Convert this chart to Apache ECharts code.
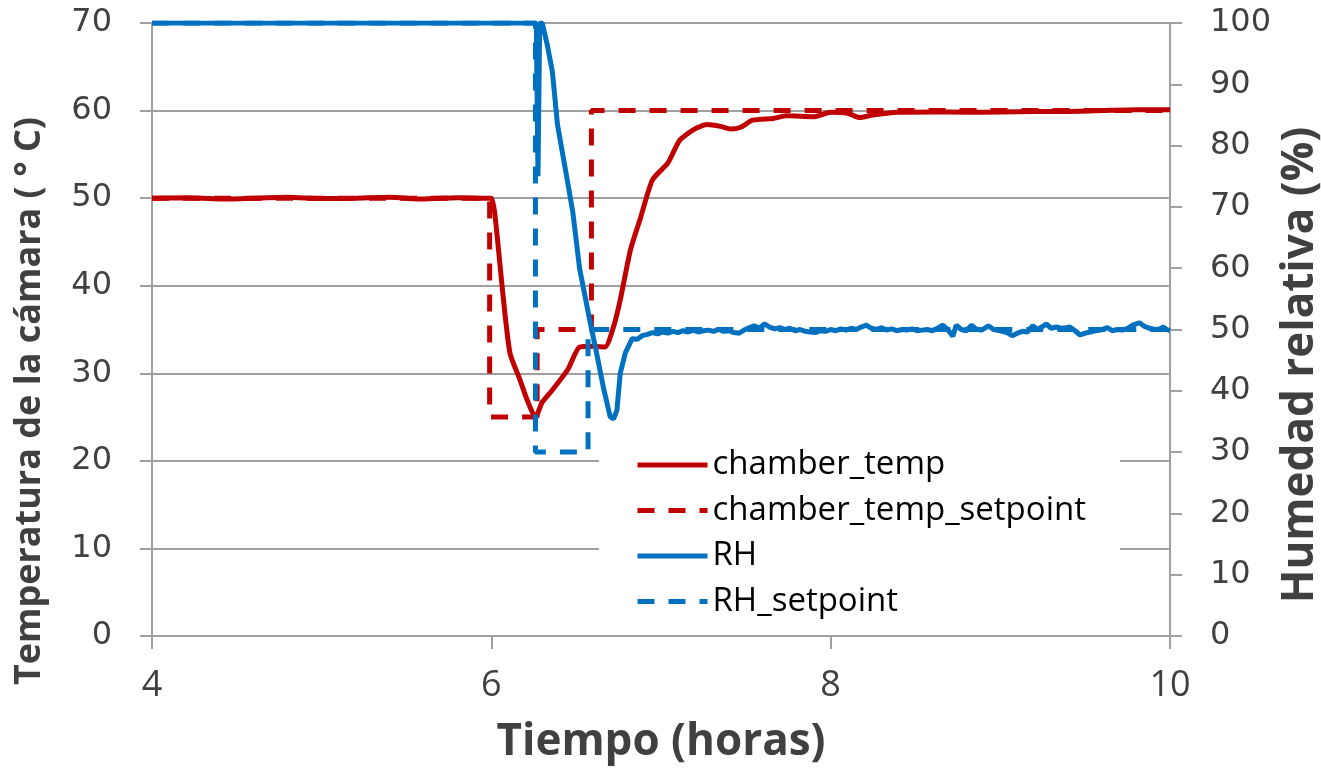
<!DOCTYPE html>
<html>
<head>
<meta charset="utf-8">
<script src="https://cdn.jsdelivr.net/npm/echarts@6/dist/echarts.min.js"></script>
<style>
  html, body { margin: 0; padding: 0; background: #fff; }
  #chart { width: 1321px; height: 771px; }
</style>
</head>
<body>
<div id="chart"></div>
<script>
// tiempo en horas / temperatura de la cámara (°C)
const tempTime = [4.0, 4.2, 4.4, 4.6, 4.8, 5.0, 5.2, 5.4, 5.6, 5.8, 5.95, 6.0,
  6.02, 6.07, 6.11, 6.17, 6.21, 6.26, 6.30, 6.36, 6.45, 6.52, 6.60, 6.67,
  6.72, 6.76, 6.82, 6.88, 6.95, 7.04, 7.11, 7.19, 7.27, 7.35, 7.41, 7.47,
  7.54, 7.66, 7.74, 7.90, 8.00, 8.10, 8.17, 8.25, 8.4, 8.6, 8.8, 9.0, 9.2,
  9.4, 9.6, 9.8, 10.0]
const tempVals = [50.0, 50.05, 49.9, 50.0, 50.1, 49.95, 50.0, 50.1, 49.9, 50.05, 50.0, 50.0,
  48.3, 38.7, 32.3, 29.2, 27.0, 25.0, 26.7, 28.1, 30.4, 33.0, 33.1, 33.0,
  35.3, 38.4, 44.1, 47.8, 52.1, 54.0, 56.6, 57.8, 58.4, 58.2, 57.9, 58.1,
  58.9, 59.1, 59.4, 59.3, 59.8, 59.7, 59.2, 59.5, 59.8, 59.85, 59.8, 59.85, 59.9,
  59.9, 60.0, 60.1, 60.1]

// consigna de temperatura
const tempSpTime = [4, 5.99, 5.99, 6.27, 6.27, 6.59, 6.59, 10]
const tempSpVals = [50, 50, 25, 25, 35, 35, 60, 60]

// humedad relativa (%)
const rhTime = [4.0, 6.25, 6.265, 6.275, 6.285, 6.30, 6.33, 6.36, 6.39, 6.45, 6.48, 6.52,
  6.58, 6.62, 6.66, 6.70, 6.72, 6.74, 6.76, 6.79, 6.83, 6.86, 6.89,
  6.92, 6.95, 6.98, 7.01, 7.04, 7.07, 7.10, 7.13, 7.16, 7.19, 7.22, 7.25, 7.28,
  7.31, 7.34, 7.37, 7.40, 7.43, 7.46, 7.49, 7.52, 7.55, 7.58, 7.61, 7.64, 7.67,
  7.70, 7.73, 7.76, 7.79, 7.82, 7.85, 7.88, 7.91, 7.94, 7.97, 8.00, 8.03, 8.06,
  8.09, 8.12, 8.15, 8.18, 8.21, 8.24, 8.27, 8.30, 8.33, 8.36, 8.39, 8.42, 8.45,
  8.48, 8.51, 8.54, 8.57, 8.60, 8.63, 8.66, 8.69, 8.72, 8.74, 8.77, 8.80, 8.83,
  8.86, 8.89, 8.93, 8.96, 9.00, 9.04, 9.07, 9.10, 9.13, 9.16, 9.19, 9.22, 9.25,
  9.27, 9.30, 9.33, 9.36, 9.39, 9.41, 9.44, 9.47, 9.50, 9.53, 9.56, 9.59, 9.63,
  9.66, 9.69, 9.72, 9.75, 9.78, 9.82, 9.85, 9.88, 9.91, 9.94, 9.96, 9.98, 10.0]
const rhVals = [100, 100, 100, 75, 100, 100, 96.4, 92.0, 83.4, 74.0, 69.2, 60.0,
  51.5, 46.2, 40.6, 35.8, 35.4, 36.8, 42.9, 46.2, 48.5, 48.4, 49.0,
  49.2, 49.5, 49.3, 49.6, 49.4, 49.7, 49.5, 49.8, 49.6, 49.9, 49.6, 49.8, 49.9,
  49.7, 50.0, 49.7, 49.8, 49.5, 49.4, 49.9, 50.3, 50.6, 50.2, 50.9, 50.4, 50.1,
  50.3, 50.0, 50.2, 49.8, 50.0, 49.7, 49.6, 49.5, 49.8, 49.7, 50.0, 49.8, 50.1,
  49.9, 50.2, 50.0, 50.4, 50.7, 50.2, 50.0, 50.3, 49.9, 50.1, 49.8, 50.0, 49.9,
  50.1, 49.8, 49.9, 50.0, 49.8, 50.2, 50.7, 50.0, 48.9, 50.7, 50.0, 49.8, 50.7,
  50.0, 49.9, 50.6, 50.0, 49.8, 49.5, 49.0, 49.4, 49.7, 49.6, 50.6, 50.0, 50.5,
  50.9, 50.2, 50.4, 50.2, 50.3, 50.4, 49.8, 49.1, 49.4, 49.6, 49.8, 49.9, 50.3,
  49.8, 50.0, 49.9, 50.2, 50.7, 51.1, 50.5, 50.2, 50.0, 50.1, 50.4, 50.0, 49.8]

// consigna de humedad
const rhSpTime = [4, 6.26, 6.26, 6.57, 6.57, 10]
const rhSpVals = [100, 100, 30, 30, 50, 50]

const seriesNames = ['chamber_temp', 'chamber_temp_setpoint', 'RH', 'RH_setpoint']
const xTicks = [4, 6, 8, 10]

const RED = '#c00000'
const BLUE = '#0070c0'
const AXIS_GRAY = '#a0a0a0'
const TEXT_GRAY = '#404040'
const LINE_W = 5
const DASH = [17, 14]

function zip(xs, ys) {
  return xs.map((x, i) => [x, ys[i]])
}

const chart = echarts.init(document.getElementById('chart'))

const option = {
  backgroundColor: '#fff',
  animation: false,
  grid: { left: 152, right: 151, top: 23, bottom: 135 },
  legend: {
    orient: 'vertical',
    left: 599,
    top: 440,
    padding: [8, 34, 8, 36],
    backgroundColor: '#fff',
    itemWidth: 70,
    itemHeight: 14,
    itemGap: 11.5,
    itemStyle: { opacity: 0 },
    lineStyle: { width: LINE_W },
    textStyle: { fontFamily: 'Open Sans', fontSize: 33, color: '#000', lineHeight: 34 },
    data: seriesNames,
  },
  xAxis: {
    type: 'value',
    min: xTicks[0],
    max: xTicks[xTicks.length - 1],
    interval: 2,
    name: 'Tiempo (horas)',
    nameLocation: 'middle',
    nameGap: 84,
    nameTextStyle: { fontFamily: 'Open Sans', fontWeight: 'bold', fontSize: 44, color: TEXT_GRAY },
    axisLine: { show: true, onZero: false, lineStyle: { color: AXIS_GRAY, width: 2 } },
    axisTick: { show: true, length: 13, lineStyle: { color: AXIS_GRAY, width: 2 } },
    axisLabel: { fontFamily: 'Open Sans', fontSize: 36, color: TEXT_GRAY, margin: 32 },
    splitLine: { show: false },
  },
  yAxis: [
    {
      type: 'value',
      min: 0,
      max: 70,
      interval: 10,
      axisLine: { show: true, lineStyle: { color: AXIS_GRAY, width: 2 } },
      axisTick: { show: true, length: 12, lineStyle: { color: AXIS_GRAY, width: 2 } },
      axisLabel: { fontFamily: 'DejaVu Sans', fontSize: 32, color: TEXT_GRAY, margin: 40 },
      splitLine: { show: true, lineStyle: { color: AXIS_GRAY, width: 2 } },
    },
    {
      type: 'value',
      min: 0,
      max: 100,
      interval: 10,
      position: 'right',
      axisLine: { show: true, lineStyle: { color: AXIS_GRAY, width: 2 } },
      axisTick: { show: true, length: 12, lineStyle: { color: AXIS_GRAY, width: 2 } },
      axisLabel: { fontFamily: 'DejaVu Sans', fontSize: 32, color: TEXT_GRAY, margin: 40 },
      splitLine: { show: false },
    },
  ],
  graphic: [
    {
      type: 'text',
      x: 30,
      y: 401,
      rotation: Math.PI / 2,
      style: {
        text: 'Temperatura de la cámara ( ° C)',
        fontFamily: 'Open Sans',
        fontWeight: 'bold',
        fontSize: 36,
        fill: TEXT_GRAY,
        align: 'center',
        verticalAlign: 'middle',
      },
    },
    {
      type: 'text',
      x: 1300,
      y: 365,
      rotation: Math.PI / 2,
      style: {
        text: 'Humedad relativa (%)',
        fontFamily: 'Open Sans',
        fontWeight: 'bold',
        fontSize: 44,
        fill: TEXT_GRAY,
        align: 'center',
        verticalAlign: 'middle',
      },
    },
  ],
  series: [
    {
      name: seriesNames[0],
      type: 'line',
      yAxisIndex: 0,
      symbol: 'none',
      smooth: 0.2,
      data: zip(tempTime, tempVals),
      lineStyle: { color: RED, width: LINE_W },
      itemStyle: { color: RED },
    },
    {
      name: seriesNames[1],
      type: 'line',
      yAxisIndex: 0,
      symbol: 'none',
      data: zip(tempSpTime, tempSpVals),
      lineStyle: { color: RED, width: LINE_W, type: DASH },
      itemStyle: { color: RED },
    },
    {
      name: seriesNames[2],
      type: 'line',
      yAxisIndex: 1,
      symbol: 'none',
      data: zip(rhTime, rhVals),
      lineStyle: { color: BLUE, width: LINE_W },
      itemStyle: { color: BLUE },
    },
    {
      name: seriesNames[3],
      type: 'line',
      yAxisIndex: 1,
      symbol: 'none',
      data: zip(rhSpTime, rhSpVals),
      lineStyle: { color: BLUE, width: LINE_W, type: DASH },
      itemStyle: { color: BLUE },
    },
  ],
}

chart.setOption(option)
</script>
</body>
</html>
